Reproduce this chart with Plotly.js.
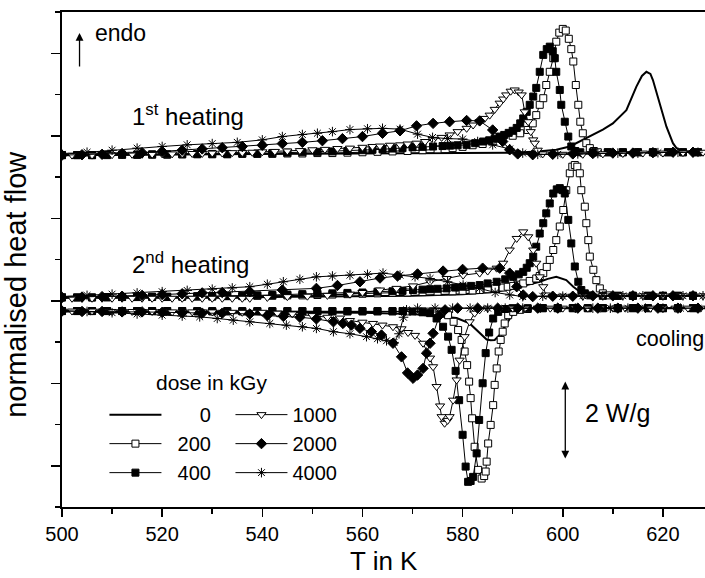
<!DOCTYPE html>
<html><head><meta charset="utf-8">
<script src="https://cdn.plot.ly/plotly-3.0.1.min.js"></script>
<style>html,body{margin:0;padding:0;background:#fff}#plot{width:705px;height:578px}</style>
</head><body><div id="plot"></div>
<script>
// ---------- data (T in K, normalised heat flow in W/g with group offsets) ----------
const doses = ["0", "200", "400", "1000", "2000", "4000"];

// 1st heating
const h1_x0 = [500,520,540,560,580,590,595,598.7,601.4,603.4,605.4,608,610,612.7,614.7,615.8,616.7,617.5,618,619.4,620.7,622,622.7,624,628.4];
const h1_y0 = [8.53,8.54,8.55,8.56,8.57,8.59,8.62,8.66,8.74,8.86,8.98,9.15,9.30,9.62,10.19,10.45,10.55,10.5,10.35,9.79,9.22,8.82,8.70,8.62,8.6];
const h1_x200 = [500,503,506,509,512,515,518,521,524,527,530,533,536,539,542,545,548,551,554,557,560,563,566,569,572,575,578,580,582,584,586,588,590,591.5,593,594,594.7,595.4,596.1,596.7,597.4,598.1,598.7,599.3,600,600.6,601.2,601.7,602.1,602.6,603.1,603.5,604,604.7,605.4,606.2,607,609,612,615,618,621,624,627];
const h1_y200 = [8.53,8.53,8.53,8.53,8.54,8.54,8.54,8.54,8.55,8.55,8.55,8.55,8.56,8.56,8.56,8.57,8.57,8.58,8.58,8.59,8.6,8.61,8.62,8.63,8.65,8.67,8.70,8.73,8.77,8.80,8.86,8.93,9.0,9.06,9.14,9.3,9.5,9.75,9.91,10.23,10.55,10.88,11.28,11.5,11.59,11.55,11.35,11.1,10.8,10.23,9.75,9.34,9.06,8.82,8.70,8.63,8.6,8.6,8.6,8.6,8.6,8.6,8.6,8.6];
const h1_x400 = [500,503,506,509,512,515,518,521,524,527,530,533,536,539,542,545,548,551,554,557,560,562,564,566,568,570,572,574.1,576,577.5,579,580.8,582.5,584.1,585.3,586.4,587.4,588.3,589.2,590,590.8,591.5,592.1,592.8,593.4,594.1,594.7,595.4,596.1,596.8,597.4,598,598.4,598.7,599.4,599.7,600.4,601.1,601.7,602.5,603.5,606,609,612,615,618,621,624,627];
const h1_y400 = [8.53,8.53,8.53,8.54,8.54,8.54,8.55,8.55,8.55,8.56,8.56,8.56,8.57,8.57,8.58,8.59,8.6,8.61,8.62,8.63,8.65,8.66,8.67,8.69,8.7,8.72,8.73,8.74,8.75,8.76,8.77,8.78,8.82,8.86,8.89,8.93,8.98,9.02,9.07,9.12,9.19,9.3,9.42,9.58,9.75,9.95,10.16,10.55,10.96,11.1,11.16,11.05,10.88,10.55,10.11,9.75,9.34,8.98,8.74,8.63,8.6,8.6,8.6,8.6,8.6,8.6,8.6,8.6,8.6];
const h1_x1000 = [500,502,504,506,508,510,512,514,516,518,520,522,524,526,528,530,532,534,536,538,540,542.5,545,547.5,550,552.5,555,557.5,560,562,563.5,565.5,567.5,569,570.8,572.5,574.1,575.8,577.4,579,580.8,582.1,583.4,584.4,585.4,586.4,587.4,588.1,588.7,589.6,590.4,591.2,591.8,592.4,593.1,593.6,594.1,594.4,595,596,598,600,602,604,606,608,610,612,614,616,618,620,622,624,626,628];
const h1_y1000 = [8.53,8.53,8.53,8.53,8.54,8.54,8.54,8.55,8.55,8.55,8.56,8.56,8.56,8.57,8.57,8.58,8.58,8.59,8.59,8.6,8.61,8.62,8.63,8.64,8.66,8.67,8.69,8.7,8.72,8.74,8.75,8.77,8.78,8.8,8.82,8.86,8.90,8.96,9.02,9.1,9.18,9.26,9.34,9.42,9.50,9.64,9.79,9.89,9.99,10.08,10.11,10.06,9.99,9.58,9.34,9.1,8.90,8.82,8.65,8.56,8.55,8.55,8.55,8.55,8.56,8.56,8.57,8.57,8.57,8.58,8.58,8.58,8.59,8.59,8.59,8.6];
const h1_x2000 = [500,504,508,512,516,520,524,528,532,536,540,544,548,552,556,560,564,567.5,570.8,574.1,577.4,580.8,583.4,586,588,589.4,591,594,598,602,606,610,614,618,622,626];
const h1_y2000 = [8.53,8.54,8.55,8.57,8.59,8.62,8.65,8.68,8.71,8.74,8.77,8.81,8.84,8.88,8.93,8.98,9.06,9.12,9.24,9.30,9.34,9.37,9.36,9.14,8.86,8.66,8.56,8.54,8.55,8.56,8.57,8.58,8.58,8.59,8.6,8.6];
const h1_x4000 = [500,505,510,515,520,525,530,535,540,544,548,551,554,557.5,561,564,567.5,571,574,577,580,583,586,589.4,592,595,599,603,607,611,615,619,623,627];
const h1_y4000 = [8.55,8.6,8.65,8.7,8.74,8.78,8.81,8.84,8.9,8.98,9.03,9.06,9.1,9.15,9.17,9.18,9.16,9.04,8.96,8.93,8.92,8.86,8.78,8.68,8.58,8.55,8.55,8.56,8.57,8.58,8.58,8.59,8.6,8.6];

// 2nd heating
const h2_x0 = [500,540,570,580,586.8,590.1,592.8,595.4,597,598.7,600.7,602.1,603.4,604.7,606,628.4];
const h2_y0 = [5.08,5.09,5.12,5.16,5.22,5.30,5.38,5.46,5.53,5.58,5.50,5.34,5.22,5.14,5.11,5.12];
const h2_x200 = [500,503,506,509,512,515,518,521,524,527,530,533,536,539,542,545,548,551,554,557,560,563,566,569,572,575,578,580,582,583.4,585,586.5,588,589,590.1,591.1,592.1,593.4,594.7,595.4,596.1,596.8,597.4,598.1,598.7,599.4,600.1,600.7,601.4,601.9,602.4,602.9,603.4,603.7,604.4,604.7,605.1,605.4,606.1,606.7,607.4,608,609,611,614,617,620,623,626];
const h2_y200 = [5.08,5.08,5.08,5.08,5.09,5.09,5.09,5.09,5.10,5.10,5.10,5.11,5.11,5.12,5.12,5.13,5.13,5.14,5.15,5.16,5.17,5.18,5.19,5.2,5.21,5.22,5.23,5.24,5.25,5.26,5.28,5.30,5.32,5.34,5.36,5.39,5.42,5.48,5.54,5.60,5.67,5.82,5.99,6.23,6.47,6.80,7.20,7.68,8.09,8.25,8.29,8.25,8.09,7.68,7.28,6.88,6.47,6.07,5.75,5.50,5.30,5.18,5.13,5.12,5.12,5.12,5.12,5.12,5.12];
const h2_x400 = [500,503,506,509,512,515,518,521,524,527,530,533,536,539,542,545,548,551,554,557,560,563,566,568,570.1,572,573.5,575,576.8,578.5,580,581.7,583.4,585,586.8,588.5,590.1,591.2,592.1,592.8,593.4,594.1,594.7,595.4,596.1,596.7,597.4,598.1,598.8,599.4,600,600.4,601.1,601.7,602.4,603.1,603.7,604.4,605.5,608,611,614,617,620,623,626];
const h2_y400 = [5.08,5.08,5.08,5.09,5.09,5.09,5.10,5.10,5.10,5.11,5.11,5.12,5.12,5.13,5.14,5.15,5.16,5.17,5.18,5.19,5.2,5.22,5.23,5.24,5.26,5.27,5.28,5.29,5.30,5.32,5.34,5.36,5.38,5.42,5.46,5.52,5.58,5.64,5.70,5.80,5.91,6.07,6.31,6.63,6.88,7.12,7.36,7.60,7.70,7.73,7.68,7.60,6.96,6.39,5.83,5.46,5.26,5.18,5.13,5.12,5.12,5.12,5.12,5.12,5.12,5.12];
const h2_x1000 = [500,502,504,506,508,510,512,514,516,518,520,522,524,526,528,530,532,534,536,537.5,541,545,549,553,557.5,560,563.5,566.8,570.1,573.5,576.8,580.1,583.4,585,586.8,588.1,589.4,590.8,592.1,593.1,594.1,594.7,595.4,596.1,596.6,598,600,602,604,606,608,610,612,614,616,618,620,622,624,626,628];
const h2_y1000 = [5.06,5.06,5.06,5.06,5.06,5.06,5.06,5.06,5.06,5.06,5.06,5.06,5.06,5.06,5.06,5.06,5.06,5.06,5.06,5.06,5.08,5.10,5.11,5.13,5.16,5.2,5.26,5.30,5.36,5.46,5.54,5.62,5.67,5.72,5.79,5.91,6.23,6.51,6.67,6.55,6.23,5.91,5.58,5.34,5.14,5.1,5.11,5.11,5.11,5.11,5.12,5.12,5.12,5.12,5.12,5.12,5.12,5.12,5.12,5.12,5.12];
const h2_x2000 = [500,504,508,512,516,520,524,528,532,537.5,544,550.8,555,559.5,563.5,567,571,576.1,580,584,587.4,589.4,590.8,592.1,594,598,602,606,610,614,618,622,626];
const h2_y2000 = [5.08,5.09,5.10,5.11,5.13,5.15,5.17,5.19,5.2,5.22,5.26,5.30,5.37,5.46,5.55,5.60,5.65,5.72,5.76,5.79,5.79,5.67,5.34,5.14,5.1,5.11,5.11,5.12,5.12,5.12,5.12,5.12,5.12];
const h2_x4000 = [500,505,510,515,520,525,530,534,537.5,541,544.2,547.5,550.8,554,557.5,561,564.1,567.5,570.5,573.5,577,580.1,583.4,586.5,589.4,592,596,600,604,608,612,616,620,624,628];
const h2_y4000 = [5.1,5.13,5.16,5.19,5.22,5.25,5.28,5.31,5.34,5.40,5.46,5.52,5.58,5.6,5.62,5.64,5.67,5.62,5.58,5.54,5.46,5.38,5.30,5.2,5.14,5.1,5.11,5.11,5.12,5.12,5.12,5.12,5.12,5.12,5.12];

// cooling
const c_x0 = [500,540,560,570,576,578.8,581.4,583.4,584.8,585.6,586.4,587.4,588.8,590.1,591.4,594,628.4];
const c_y0 = [4.74,4.73,4.71,4.68,4.62,4.58,4.45,4.21,4.06,4.04,4.05,4.17,4.45,4.70,4.78,4.82,4.82];
const c_x200 = [500,503,506,509,512,515,518,521,524,527,530,533,536,539,542,545,548,551,554,557,560,563,566,569,572,574,575.8,577.1,578.2,579.1,579.8,580.4,580.9,581.3,581.6,581.9,582.4,583.1,583.8,584.3,584.6,584.8,585.1,585.6,586.1,586.4,586.8,587.2,587.6,588,588.4,589.1,590.1,591.5,593,596,599,602,605,608,611,614,617,620,623,626];
const c_y200 = [4.75,4.75,4.75,4.75,4.75,4.75,4.75,4.75,4.75,4.74,4.74,4.74,4.74,4.74,4.74,4.74,4.74,4.74,4.74,4.74,4.74,4.74,4.74,4.74,4.74,4.74,4.73,4.65,4.49,4.29,4.05,3.77,3.44,3.04,2.64,2.15,1.46,0.90,0.69,0.75,0.86,1.10,1.54,1.99,2.47,2.96,3.36,3.77,4.05,4.25,4.45,4.65,4.73,4.78,4.8,4.82,4.82,4.82,4.82,4.82,4.82,4.82,4.82,4.82,4.82,4.82];
const c_x400 = [500,503,506,509,512,515,518,521,524,527,530,533,536,539,542,545,548,551,554,557,560,563,566,568,570,572,573.5,574.8,576.1,577.1,577.8,578.6,579.3,580,580.6,581.1,581.6,582.1,582.8,583.3,584,584.6,585.3,586.1,587.1,588.5,590,593,596,599,602,605,608,611,614,617,620,623,626];
const c_y400 = [4.75,4.75,4.75,4.75,4.75,4.75,4.75,4.75,4.75,4.75,4.75,4.75,4.75,4.75,4.75,4.75,4.75,4.75,4.75,4.75,4.75,4.75,4.75,4.75,4.74,4.72,4.70,4.57,4.37,4.13,3.81,3.30,2.59,1.75,0.98,0.61,0.63,0.73,1.30,2.11,3.00,3.73,4.23,4.57,4.73,4.8,4.82,4.82,4.82,4.82,4.82,4.82,4.82,4.82,4.82,4.82,4.82,4.82,4.82];
const c_x1000 = [500,502,504,506,508,510,512,514,516,518,520,522,524,526,528,530,532,534,536,538,540,543,546,550,553,555.5,557.5,560,562.1,564,566.1,567.8,569.1,570.5,572.1,573.5,574.1,574.8,575.5,575.8,576.4,577,577.4,578.1,578.8,579.4,580.4,581.4,582.4,583.4,585,587.5,590,592.5,595,597.5,600,602.5,605,607.5,610,612.5,615,617.5,620,622.5,625,627.5];
const c_y1000 = [4.75,4.75,4.75,4.75,4.75,4.74,4.74,4.74,4.74,4.74,4.74,4.73,4.73,4.73,4.73,4.73,4.72,4.72,4.72,4.72,4.72,4.70,4.68,4.64,4.6,4.58,4.52,4.48,4.45,4.41,4.37,4.32,4.23,4.16,3.97,3.61,3.40,2.92,2.45,2.19,2.03,2.10,2.19,2.59,3.08,3.56,4.13,4.49,4.70,4.78,4.82,4.82,4.82,4.82,4.82,4.82,4.82,4.82,4.82,4.82,4.82,4.82,4.82,4.82,4.82,4.82,4.82,4.82];
const c_x2000 = [500,504,508,512,516,520,524,528,532,537.5,541,544.2,547.5,550.8,554.2,556.1,557.8,559.5,561.8,563.8,566.1,567.8,569,570.1,571,572.1,572.8,573.5,574.1,575.4,576.5,579,583,587,591,595,599,603,607,611,615,619,623,627];
const c_y2000 = [4.75,4.74,4.74,4.73,4.73,4.72,4.71,4.70,4.70,4.68,4.64,4.62,4.60,4.56,4.49,4.45,4.41,4.33,4.25,4.17,3.97,3.64,3.25,3.12,3.2,3.36,3.73,3.97,4.21,4.65,4.78,4.82,4.82,4.82,4.82,4.82,4.82,4.82,4.82,4.82,4.82,4.82,4.82,4.82];
const c_x4000 = [500,505,510,515,520,524,527.5,531,534.2,537.5,541.5,544.8,548,550.8,554.2,557.5,560.8,563,564.8,566.3,567.3,568.2,568.8,571,574.5,578,581.5,585,588.5,592,595.5,599,602.5,606,609.5,613,616.5,620,623.5,627];
const c_y4000 = [4.76,4.74,4.71,4.68,4.65,4.63,4.61,4.57,4.53,4.49,4.45,4.41,4.37,4.33,4.25,4.20,4.13,4.08,4.03,3.99,4.2,4.6,4.78,4.82,4.82,4.82,4.82,4.82,4.82,4.82,4.82,4.82,4.82,4.82,4.82,4.82,4.82,4.82,4.82,4.82];

// ---------- styles ----------
const FS = "\u2007"; // figure space to right-align the legend numbers
const styles = {
  "0":    {mode: "lines", line: {color: "#000", width: 2}},
  "200":  {mode: "lines+markers", line: {color: "#000", width: 1}, marker: {symbol: "square", size: 7, color: "#fff", line: {color: "#000", width: 1}}},
  "400":  {mode: "lines+markers", line: {color: "#000", width: 1}, marker: {symbol: "square", size: 7, color: "#000", line: {color: "#000", width: 1}}},
  "1000": {mode: "lines+markers", line: {color: "#000", width: 1}, marker: {symbol: "triangle-down", size: 8, color: "#fff", line: {color: "#000", width: 1}}},
  "2000": {mode: "lines+markers", line: {color: "#000", width: 1}, marker: {symbol: "diamond", size: 8, color: "#000", line: {color: "#000", width: 1}}},
  "4000": {mode: "lines+markers", line: {color: "#000", width: 1}, marker: {symbol: "asterisk-open", size: 8, color: "#000", line: {color: "#000", width: 1}}}
};
const groups = [
  {xs: [h1_x0, h1_x200, h1_x400, h1_x1000, h1_x2000, h1_x4000], ys: [h1_y0, h1_y200, h1_y400, h1_y1000, h1_y2000, h1_y4000], legend: true},
  {xs: [h2_x0, h2_x200, h2_x400, h2_x1000, h2_x2000, h2_x4000], ys: [h2_y0, h2_y200, h2_y400, h2_y1000, h2_y2000, h2_y4000], legend: false},
  {xs: [c_x0, c_x200, c_x400, c_x1000, c_x2000, c_x4000], ys: [c_y0, c_y200, c_y400, c_y1000, c_y2000, c_y4000], legend: false}
];
const traces = [];
groups.forEach(g => {
  doses.forEach((d, i) => {
    const s = styles[d];
    const label = FS.repeat(4 - d.length) + d;
    const t = Object.assign({type: "scatter", x: g.xs[i], y: g.ys[i], name: label, showlegend: g.legend, hoverinfo: "skip"}, JSON.parse(JSON.stringify(s)));
    t.legend = (i < 3) ? "legend" : "legend2";
    traces.push(t);
  });
});

const FONT = "Liberation Sans, Arial, sans-serif";
const legendBase = {yanchor: "top", xanchor: "left", bgcolor: "rgba(0,0,0,0)", font: {family: FONT, size: 20, color: "#000"}, traceorder: "normal", itemwidth: 52};
const layout = {
  width: 705, height: 578,
  margin: {l: 62, r: 0, t: 12, b: 71},
  paper_bgcolor: "#fff", plot_bgcolor: "#fff",
  font: {family: FONT, color: "#000", size: 21},
  showlegend: true,
  xaxis: {
    range: [500, 628.4], tickmode: "linear", tick0: 500, dtick: 20,
    ticks: "outside", ticklen: 8, tickwidth: 1.5, tickcolor: "#000",
    minor: {dtick: 10, ticks: "outside", ticklen: 5, tickwidth: 1.5, tickcolor: "#000"},
    showline: true, linewidth: 2, linecolor: "#000", mirror: true,
    showgrid: false, zeroline: false,
    tickfont: {family: FONT, size: 20, color: "#000"}
  },
  yaxis: {
    range: [0, 12], tickmode: "linear", tick0: 1, dtick: 2,
    ticks: "outside", ticklen: 9, tickwidth: 1.5, tickcolor: "#000",
    minor: {dtick: 1, tick0: 0, ticks: "outside", ticklen: 5, tickwidth: 1.5, tickcolor: "#000"},
    showticklabels: false,
    showline: true, linewidth: 2, linecolor: "#000",
    showgrid: false, zeroline: false
  },
  legend: Object.assign({x: 0.066, y: 0.226}, legendBase),
  legend2: Object.assign({x: 0.262, y: 0.226}, legendBase),
  annotations: [
    // axis titles
    {x: 0.5, y: -0.109, xref: "paper", yref: "paper", text: "T in K", showarrow: false, xanchor: "center", yanchor: "middle", font: {family: FONT, size: 26}},
    {x: -0.0715, y: 0.449, xref: "paper", yref: "paper", text: "normalised heat flow", textangle: -90, showarrow: false, xanchor: "center", yanchor: "middle", font: {family: FONT, size: 29}},
    // annotations inside the plot
    {x: 503.5, y: 11.49, ax: 503.5, ay: 10.64, xref: "x", yref: "y", axref: "x", ayref: "y", text: "", showarrow: true, arrowhead: 2, arrowsize: 1.2, arrowwidth: 1.3, arrowcolor: "#000"},
    {x: 506.2, y: 11.49, xref: "x", yref: "y", text: "endo", showarrow: false, xanchor: "left", yanchor: "middle", font: {family: FONT, size: 23}},
    {x: 513.6, y: 9.5, xref: "x", yref: "y", text: "1<sup>st</sup> heating", showarrow: false, xanchor: "left", yanchor: "middle", font: {family: FONT, size: 24}},
    {x: 513.6, y: 5.92, xref: "x", yref: "y", text: "2<sup>nd</sup> heating", showarrow: false, xanchor: "left", yanchor: "middle", font: {family: FONT, size: 24}},
    {x: 614.3, y: 4.07, xref: "x", yref: "y", text: "cooling", showarrow: false, xanchor: "left", yanchor: "middle", font: {family: FONT, size: 21.5}},
    {x: 600.5, y: 3.04, ax: 600.5, ay: 1.14, xref: "x", yref: "y", axref: "x", ayref: "y", text: "", showarrow: true, arrowhead: 2, startarrowhead: 2, arrowside: "end+start", arrowsize: 1.2, arrowwidth: 1.3, arrowcolor: "#000"},
    {x: 604.0, y: 2.28, xref: "x", yref: "y", text: "2 W/g", showarrow: false, xanchor: "left", yanchor: "middle", font: {family: FONT, size: 25}},
    {x: 0.233, y: 0.252, xref: "paper", yref: "paper", text: "dose in kGy", showarrow: false, xanchor: "center", yanchor: "middle", font: {family: FONT, size: 21}}
  ]
};
Plotly.newPlot("plot", traces, layout, {staticPlot: true, displayModeBar: false});
</script>
</body></html>
